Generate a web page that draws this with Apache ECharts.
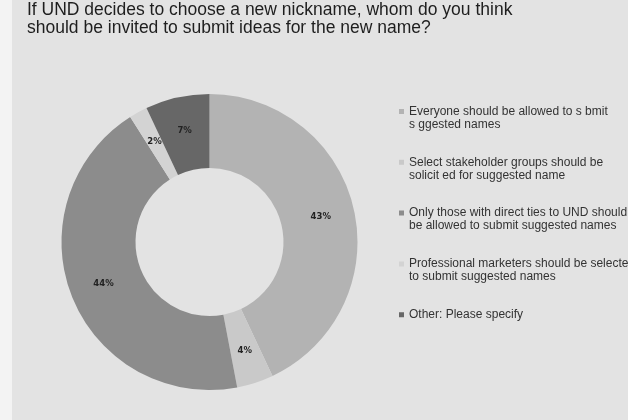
<!DOCTYPE html>
<html>
<head>
<meta charset="utf-8">
<script src="https://cdn.jsdelivr.net/npm/echarts@6/dist/echarts.min.js"></script>
<style>
  html, body { margin: 0; padding: 0; background: #e3e3e3; }
  #chart { width: 628px; height: 420px; }
</style>
</head>
<body>
<div id="chart"></div>
<script>
// Survey answers, in the order they appear around the ring (clockwise from 12 o'clock)
const categories = [
  'Everyone should be allowed to s bmit\ns ggested names',
  'Select stakeholder groups should be\nsolicit ed for suggested name',
  'Only those with direct ties to UND should\nbe allowed to submit suggested names',
  'Professional marketers should be selected\nto submit suggested names',
  'Other: Please specify'
];
const shares = [43, 4, 44, 2, 7];
const sliceColors = ['#b3b3b3', '#c9c9c9', '#8c8c8c', '#d3d3d3', '#676767'];

const titleLines = [
  'If UND decides to choose a new nickname, whom do you think',
  'should be invited to submit ideas for the new name?'
];

const chart = echarts.init(document.getElementById('chart'), null, { renderer: 'canvas' });

chart.setOption({
  backgroundColor: '#e3e3e3',
  animation: false,
  graphic: [{
    type: 'rect',
    left: 0, top: 0,
    shape: { width: 12, height: 420 },
    style: { fill: '#f3f3f3' },
    z: -1
  }],
  title: {
    text: titleLines.join('\n'),
    left: 27,
    top: 1,
    padding: 0,
    textStyle: {
      fontFamily: 'Liberation Sans, Arial, sans-serif',
      fontSize: 17.5,
      fontWeight: 'normal',
      color: '#1e1e1e',
      lineHeight: 18
    }
  },
  legend: {
    orient: 'vertical',
    left: 399,
    top: 105,
    padding: 0,
    itemWidth: 5,
    itemHeight: 18,
    itemGap: 24.8,
    // small square sitting level with the first text line
    icon: 'path://M0,0H5V5H0Z M0,18H5',
    symbolKeepAspect: true,
    selectedMode: false,
    itemStyle: { borderWidth: 0 },
    // every entry takes two lines so the squares line up the same way
    formatter: function (name) {
      return name.indexOf('\n') >= 0 ? name : name + '\n ';
    },
    textStyle: {
      fontFamily: 'Liberation Sans, Arial, sans-serif',
      fontSize: 12,
      color: '#333333',
      lineHeight: 13
    }
  },
  series: [{
    type: 'pie',
    center: [209.5, 242],
    radius: [74, 148],
    startAngle: 90,
    clockwise: true,
    avoidLabelOverlap: false,
    label: {
      show: true,
      position: 'inside',
      formatter: '{c}%',
      fontFamily: 'DejaVu Sans, Verdana, sans-serif',
      fontSize: 8.5,
      fontWeight: 'bold',
      color: '#222222'
    },
    labelLine: { show: false },
    itemStyle: { borderWidth: 0 },
    emphasis: { disabled: true },
    data: categories.map(function (name, i) {
      return { name: name, value: shares[i], itemStyle: { color: sliceColors[i] } };
    })
  }]
});
</script>
</body>
</html>
